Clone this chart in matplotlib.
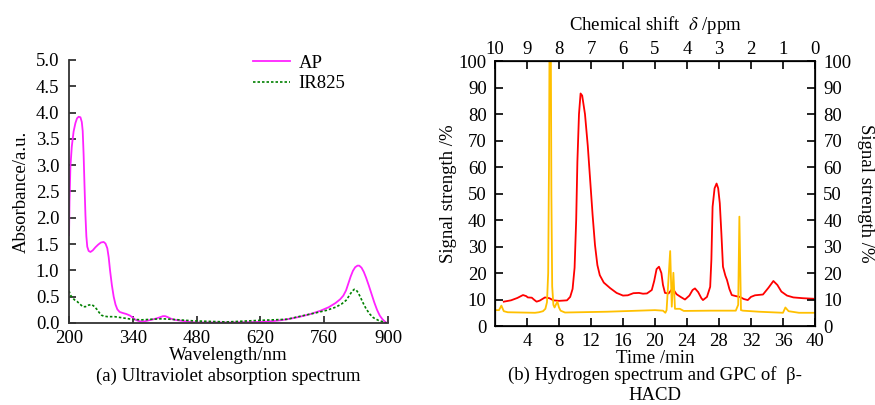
import matplotlib
matplotlib.use("Agg")
import matplotlib.pyplot as plt

plt.rcParams['font.family'] = ['Liberation Serif', 'DejaVu Serif']
plt.rcParams['mathtext.fontset'] = 'stix'
plt.rcParams['font.size'] = 13.5

# (a) UV absorption
ap_wl = [200, 201, 203, 206, 210, 214, 217.5, 221, 225, 228, 230, 232, 234, 236, 238, 240, 243,
         247, 252, 258, 264, 270, 276, 280, 284, 287, 290, 294, 298, 302, 306, 311, 318, 326,
         334, 340, 346, 352, 358, 365, 375, 385, 393, 400, 406, 411, 417, 424, 432, 448, 465,
         480, 550, 619, 640, 663, 685, 707, 730, 751, 770, 785, 795, 802, 808, 813, 818, 823,
         828, 833, 837, 842, 847, 852, 858, 864, 870, 876, 882, 888, 894, 898]
ap_abs = [1.67, 2.3, 2.97, 3.35, 3.64, 3.8, 3.89, 3.92, 3.91, 3.82, 3.65, 3.2, 2.6, 2.05, 1.65,
          1.45, 1.37, 1.35, 1.38, 1.44, 1.49, 1.53, 1.54, 1.51, 1.42, 1.25, 1.0, 0.72, 0.5, 0.35,
          0.26, 0.21, 0.19, 0.17, 0.14, 0.1, 0.06, 0.04, 0.03, 0.03, 0.05, 0.07, 0.09, 0.11, 0.13,
          0.13, 0.11, 0.08, 0.06, 0.04, 0.02, 0.01, 0.01, 0.02, 0.03, 0.05, 0.08, 0.12, 0.17,
          0.23, 0.3, 0.38, 0.45, 0.52, 0.62, 0.75, 0.88, 0.99, 1.06, 1.09, 1.09, 1.05, 0.97,
          0.86, 0.71, 0.55, 0.39, 0.25, 0.14, 0.07, 0.02, 0.0]
ir_wl = [200, 203, 206.6, 212, 217.5, 224, 230, 236, 243, 250, 256, 261, 266, 271, 276, 285,
         300, 316, 338, 360, 380, 404, 425, 441, 473, 546, 619, 678, 714, 740, 765, 785, 798,
         808, 815, 821, 826, 830, 835, 840, 846, 852, 860, 868, 879, 890, 897]
ir_abs = [0.61, 0.53, 0.49, 0.44, 0.41, 0.36, 0.31, 0.31, 0.34, 0.35, 0.31, 0.26, 0.2, 0.15,
          0.13, 0.12, 0.12, 0.1, 0.07, 0.06, 0.07, 0.08, 0.07, 0.06, 0.04, 0.02, 0.05, 0.07,
          0.14, 0.19, 0.24, 0.3, 0.36, 0.43, 0.52, 0.6, 0.64, 0.63, 0.57, 0.48, 0.37, 0.27,
          0.17, 0.1, 0.05, 0.02, 0.0]

# (b) GPC (red) and 1H NMR (yellow) on a shared time axis
gpc_t = [1.1, 2.0, 2.8, 3.5, 3.9, 4.1, 4.6, 4.9, 5.2, 5.6, 6.25, 6.8, 7.3, 8.0, 9.0, 9.4, 9.7,
         9.95, 10.15, 10.3, 10.5, 10.7, 10.9, 11.25, 11.6, 11.9, 12.2, 12.5, 12.8, 13.1, 13.6,
         14.4, 15.2, 16.0, 16.6, 17.3, 18.0, 18.5, 19.0, 19.6, 19.9, 20.2, 20.5, 20.8, 21.0,
         21.25, 21.7, 22.1, 22.4, 22.7, 23.2, 23.75, 24.3, 24.7, 25.0, 25.4, 25.8, 26.0, 26.5,
         26.9, 27.05, 27.2, 27.45, 27.7, 27.9, 28.1, 28.3, 28.5, 28.8, 29.0, 29.3, 29.6, 30.1,
         30.6, 31.1, 31.6, 32.0, 32.5, 33.5, 34.2, 34.8, 35.3, 35.8, 36.5, 37.3, 38.5, 39.8]
gpc_v = [9.2, 9.7, 10.6, 11.7, 11.3, 10.8, 10.7, 9.9, 9.2, 9.6, 10.8, 10.5, 9.7, 9.5, 9.7, 11,
         14, 22, 40, 62, 80, 87.8, 87, 80, 68, 55, 42, 30.6, 23, 19.2, 16.4, 14.3, 12.5, 11.5,
         11.6, 12.4, 12.5, 12.2, 12.3, 13.6, 17, 21.5, 22.4, 20, 15.5, 12.5, 12.3, 13.8, 13.3,
         12.0, 11, 10, 11.5, 13.6, 14.2, 12.8, 10.5, 9.8, 11, 14.8, 25, 45, 52, 53.8, 52, 46.4,
         35, 22.4, 19, 17.4, 14, 11.7, 11.3, 11.0, 10.2, 9.8, 11, 11.6, 11.9, 14.5, 17.0, 15.5,
         13.0, 11.5, 10.8, 10.5, 10.3]
nmr_t = [0.0, 0.5, 0.8, 1.1, 1.6, 5.0, 5.5, 6.0, 6.3, 6.5, 6.65, 6.75, 6.85, 6.95, 7.05, 7.15,
         7.3, 7.45, 7.6, 7.8, 8.0, 8.2, 8.75, 14.0, 20.0, 21.0, 21.3, 21.45, 21.9, 22.1, 22.3,
         22.5, 23.1, 23.6, 27.0, 30.1, 30.4, 30.55, 30.75, 31.0, 33.0, 36.0, 36.3, 36.7, 38.0,
         40.0]
nmr_v = [6.0, 6.0, 7.7, 5.6, 5.2, 5.0, 5.2, 5.6, 6.5, 9, 20, 60, 130, 130, 50, 15, 8, 7, 8,
         9.2, 7, 5.8, 5.1, 5.4, 6.0, 5.8, 5.0, 6.0, 28.3, 7.3, 20.1, 6.5, 6.5, 5.7, 5.8, 5.8,
         8.0, 41.3, 6.0, 5.8, 5.4, 5.0, 7.0, 5.6, 5.0, 5.0]

fig = plt.figure(figsize=(8.75, 4.05), dpi=100)

# ---- left panel
ax1 = fig.add_axes([0.0789, 0.2025, 0.3645, 0.6495])
ax1.plot(ap_wl, ap_abs, color='#FF22FF', lw=1.3, label='AP')
ax1.plot(ir_wl, ir_abs, color='#008000', lw=1.2, ls=(0, (1.5, 1.2)), label='IR825')
ax1.set_xlim(200, 900)
ax1.set_ylim(0, 5)
ax1.set_xticks([200, 340, 480, 620, 760, 900])
ax1.set_yticks([0, 0.5, 1, 1.5, 2, 2.5, 3, 3.5, 4, 4.5, 5])
ax1.set_yticklabels(['0.0', '0.5', '1.0', '1.5', '2.0', '2.5', '3.0', '3.5', '4.0', '4.5', '5.0'])
for s in ['top', 'right']:
    ax1.spines[s].set_visible(False)
for s in ['left', 'bottom']:
    ax1.spines[s].set_linewidth(1.3)
    ax1.spines[s].set_color('#333333')
ax1.tick_params(direction='in', length=5, width=1.3, color='#333333')
ax1.tick_params(axis='y', pad=7)
ax1.tick_params(axis='x', pad=5)
ax1.set_xlabel('Wavelength/nm', labelpad=0)
ax1.set_ylabel('Absorbance/a.u.', labelpad=4)
ax1.legend(loc='upper left', frameon=False, bbox_to_anchor=(0.525, 1.085),
           handlelength=1.95, handletextpad=0.45, labelspacing=0.2)
fig.text(0.2611, 0.071, '(a) Ultraviolet absorption spectrum', ha='center', va='center')

# ---- right panel
ax2 = fig.add_axes([0.5657, 0.195, 0.3657, 0.654])
ax2.plot(gpc_t, gpc_v, color='#FF0000', lw=1.3)
ax2.plot(nmr_t, nmr_v, color='#FFC000', lw=1.3)
ax2.set_xlim(0, 40)
ax2.set_ylim(0, 100)
ax2.set_xticks([4, 8, 12, 16, 20, 24, 28, 32, 36, 40])
ax2.set_yticks(range(0, 101, 10))
ax2.tick_params(direction='in', length=6, width=1.2)
ax2.tick_params(axis='y', pad=6)
ax2.tick_params(axis='x', pad=5)
for s in ax2.spines.values():
    s.set_linewidth(1.2)
ax2.set_xlabel('Time /min', labelpad=0)
ax2.set_ylabel('Signal strength /%', labelpad=1)

top = ax2.twiny()
top.set_xlim(10, 0)
top.set_xticks(range(10, -1, -1))
top.tick_params(direction='in', length=6, width=1.2, pad=2)
top.set_xlabel(r'Chemical shift  $\delta$ /ppm', labelpad=8)

right = ax2.twinx()
right.set_ylim(0, 100)
right.set_yticks(range(0, 101, 10))
right.tick_params(direction='in', length=6, width=1.2, pad=6)
right.set_ylabel('Signal strength /%', rotation=270, labelpad=16)

fig.text(0.7486, 0.074, '(b) Hydrogen spectrum and GPC of  \u03b2-', ha='center', va='center')
fig.text(0.7486, 0.024, 'HACD', ha='center', va='center')

fig.savefig('out.png', dpi=100)
